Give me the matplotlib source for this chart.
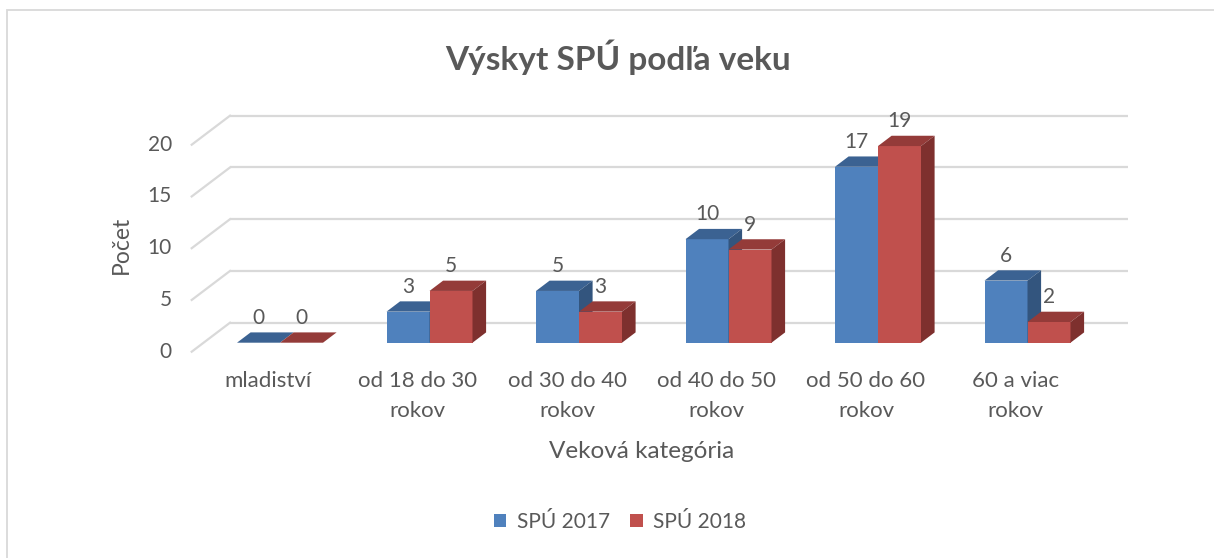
import matplotlib
matplotlib.use("Agg")
import matplotlib.pyplot as plt
from matplotlib.patches import Polygon, Rectangle

# ---- data ----
categories = ["mladiství", "od 18 do 30\nrokov", "od 30 do 40\nrokov",
              "od 40 do 50\nrokov", "od 50 do 60\nrokov", "60 a viac\nrokov"]
series_names = ["SPÚ 2017", "SPÚ 2018"]
spu_2017 = [0, 3, 5, 10, 17, 6]
spu_2018 = [0, 5, 3, 9, 19, 2]
y_ticks = [0, 5, 10, 15, 20]
title = "Výskyt SPÚ podľa veku"
x_title = "Veková kategória"
y_title = "Počet"

# ---- style ----
FONT = ["Lato", "DejaVu Sans"]
TXT = "#595959"
GRID = "#d9d9d9"
front_cols = ["#4F81BD", "#C0504D"]
top_cols = ["#3B6292", "#943B39"]
side_cols = ["#33557E", "#7E302E"]

W, H = 1214, 558
fig = plt.figure(figsize=(W / 100, H / 100), dpi=100)
ax = fig.add_axes([0, 0, 1, 1])

# pixel geometry of bar front plane
X0, SX = 280.0, 149.5     # x pixel of group 0 boundary, pixels per category
Y0, SY = 342.7, 10.35     # y pixel (from top) of value 0, pixels per unit
ax.set_xlim(-X0 / SX, (W - X0) / SX)
ax.set_ylim((Y0 - H) / SY, Y0 / SY)
ax.axis("off")

def dx(p):  # pixel shift -> data x
    return p / SX

def dy(p):  # pixel shift (up) -> data y
    return p / SY

def xp(px):  # absolute pixel x -> data
    return (px - X0) / SX

def yp(py):  # absolute pixel y (from top) -> data
    return (Y0 - py) / SY

# chart border
fig.patches.append(Rectangle((7 / W, -0.1), 1.2, 1 - 10 / H + 0.1,
                             transform=fig.transFigure, fill=False,
                             edgecolor=GRID, lw=1.3))

# walls: gridlines
back_h, front_h = 20.0, -9.0
ratio = 1.32
back_left, right_end, front_left = 230.0, 1128.0, 191.7
for v in y_ticks:
    yb = v + dy(back_h)
    yf = v + dy(front_h)
    ax.plot([xp(back_left), xp(right_end)], [yb, yb], color=GRID, lw=1.6,
            zorder=1, solid_capstyle="butt")
    ax.plot([xp(back_left), xp(front_left)], [yb, yf], color=GRID, lw=1.6,
            zorder=1)
    ax.text(xp(172), yf, str(v), ha="right", va="center", fontsize=15,
            color=TXT, family=FONT)

# bars
bw = 43.0 / SX
dh = 10.3
ddx, ddy = dx(dh * ratio), dy(dh)
handles = []
z = 3
for i in range(len(categories)):
    for s, vals in enumerate([spu_2017, spu_2018]):
        v = vals[i]
        xl = i + (s - 1) * bw
        b = ax.bar([xl], [v], width=bw, align="edge", color=front_cols[s],
                   edgecolor="none", zorder=z)
        if i == 0:
            handles.append(b)
        top = Polygon([(xl, v), (xl + bw, v), (xl + bw + ddx, v + ddy),
                       (xl + ddx, v + ddy)], closed=True,
                      facecolor=top_cols[s], edgecolor="none", zorder=z)
        side = Polygon([(xl + bw, 0), (xl + bw, v), (xl + bw + ddx, v + ddy),
                        (xl + bw + ddx, ddy)], closed=True,
                       facecolor=side_cols[s], edgecolor="none", zorder=z)
        ax.add_patch(top)
        ax.add_patch(side)
        z += 1
        ax.annotate(str(v), (xl + bw / 2, v), xytext=(0, 25),
                    textcoords="offset pixels", ha="center", va="center",
                    fontsize=15, color=TXT, family=FONT, zorder=50)

# category labels
for i, lab in enumerate(categories):
    for k, line in enumerate(lab.split("\n")):
        ax.text(i + dx(-12), yp(381 + 30 * k), line, ha="center", va="center",
                fontsize=16, color=TXT, family=FONT)

# titles
fig.text(618 / W, 1 - 57 / H, title, ha="center", va="center",
         fontsize=24, fontweight="bold", color=TXT, family=FONT)
fig.text(642 / W, 1 - 451 / H, x_title, ha="center", va="center",
         fontsize=17.5, color=TXT, family=FONT)
fig.text(121 / W, 1 - 245 / H, y_title, ha="center", va="center",
         rotation=90, fontsize=16.5, color=TXT, family=FONT)

# legend
leg = fig.legend(handles, series_names, loc="center",
                 bbox_to_anchor=(620 / W, 1 - 522 / H), ncol=2, frameon=False,
                 handlelength=0.6, handleheight=0.6, handletextpad=0.5,
                 columnspacing=1.0, prop={"family": FONT, "size": 15})
for t in leg.get_texts():
    t.set_color(TXT)

fig.savefig("out.png", dpi=100)
